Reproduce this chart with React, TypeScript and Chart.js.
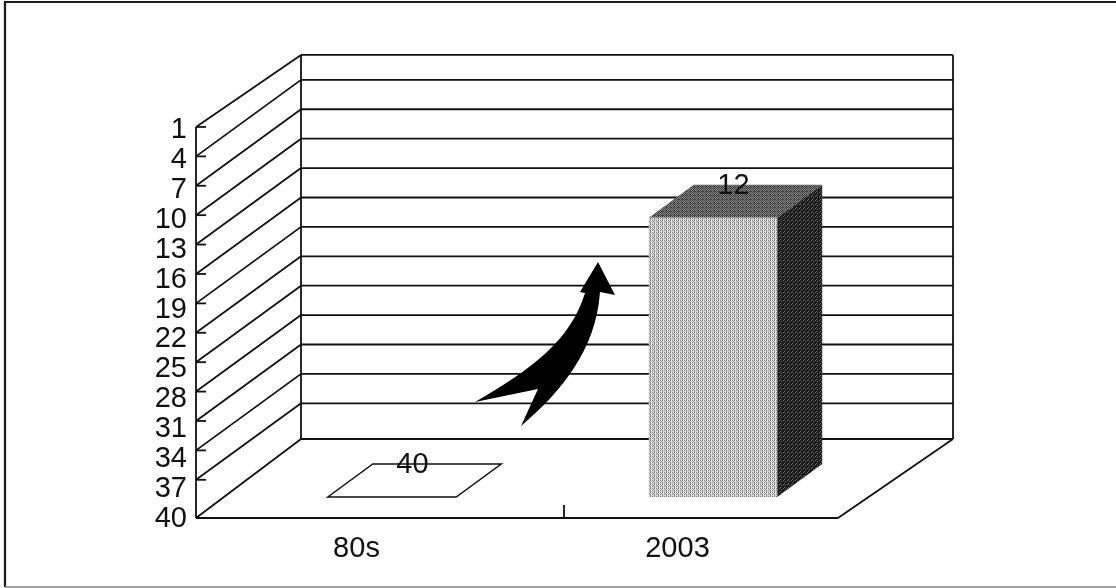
import React, { useEffect, useRef } from "react";
import { Chart, registerables } from "chart.js";

Chart.register(...registerables);

const categories = ["80s", "2003"];
const rankValues = [40, 12];
const rankTicks = [1, 4, 7, 10, 13, 16, 19, 22, 25, 28, 31, 34, 37, 40];

const FONT = '"Liberation Sans", Arial, sans-serif';
const INK = "#111111";

function dither(ctx: CanvasRenderingContext2D, rows: string[], light: string, dark: string) {
  const c = document.createElement("canvas");
  c.width = rows[0].length;
  c.height = rows.length;
  const g = c.getContext("2d")!;
  rows.forEach((row, y) => {
    [...row].forEach((ch, x) => {
      g.fillStyle = ch === "#" ? dark : light;
      g.fillRect(x, y, 1, 1);
    });
  });
  return ctx.createPattern(c, "repeat")!;
}

const scene = {
  id: "scene",
  beforeDatasetsDraw(chart: any) {
    const { ctx, chartArea: a, scales } = chart;
    const grid = scales.yGrid;
    const depthX = 105;
    const backRight = a.right + 115;
    ctx.save();
    ctx.strokeStyle = INK;
    ctx.lineWidth = 1.8;
    const line = (x1: number, y1: number, x2: number, y2: number) => {
      ctx.beginPath();
      ctx.moveTo(x1, y1);
      ctx.lineTo(x2, y2);
      ctx.stroke();
    };
    rankTicks.forEach((t, i) => {
      const last = i === rankTicks.length - 1;
      const f = last ? a.bottom - 1 : grid.getPixelForValue(t);
      const rise = i === 0 ? 72 : last ? 79 : 76.5;
      const b = f - rise;
      line(a.left, f, a.left + depthX, b);
      line(a.left + depthX, b, backRight, b);
      if (!last) line(a.left, f, a.left + 10, f);
    });
    const top = grid.getPixelForValue(rankTicks[0]);
    const bottom = a.bottom - 1;
    line(a.left, top, a.left, bottom);
    line(a.left + depthX, top - 72, a.left + depthX, bottom - 79);
    line(backRight, top - 72, backRight, bottom - 79);
    line(a.left, bottom, a.right, bottom);
    line(a.right, bottom, backRight, bottom - 79);
    const midTick = (a.left + a.right) / 2 + 47;
    line(midTick, bottom - 13, midTick, bottom);
    ctx.restore();
  },
  afterDatasetsDraw(chart: any) {
    const { ctx, chartArea: a } = chart;
    const meta = chart.getDatasetMeta(0);
    const front = dither(ctx, ["#.#.", ".#..", "#.#.", "..#."], "#e2e2e2", "#7e7e7e");
    const topFace = dither(ctx, ["#.#.", ".#.#", "#.#.", ".###"], "#8a8a8a", "#3e3e3e");
    const side = dither(ctx, ["###.", "#.##", "####", ".###"], "#6a6a6a", "#1c1c1c");
    const shiftX = 35.5;
    const shiftY = 22;
    const dx = 45;
    const dy = 33;
    ctx.save();
    meta.data.forEach((el: any, i: number) => {
      const l = el.x - el.width / 2 + shiftX;
      const r = el.x + el.width / 2 + shiftX;
      const t = el.y - shiftY;
      const b = el.base - shiftY;
      const flat = b - t < 1;
      const poly = (pts: number[][], fill: any) => {
        ctx.beginPath();
        pts.forEach(([x, y], k) => (k ? ctx.lineTo(x, y) : ctx.moveTo(x, y)));
        ctx.closePath();
        ctx.fillStyle = fill;
        ctx.fill();
        if (flat) {
          ctx.strokeStyle = INK;
          ctx.lineWidth = 1.5;
          ctx.stroke();
        }
      };
      poly([[l, t], [l + dx, t - dy], [r + dx, t - dy], [r, t]], flat ? "#ffffff" : topFace);
      if (!flat) {
        poly([[r, t], [r + dx, t - dy], [r + dx, b - dy], [r, b]], side);
        poly([[l, t], [r, t], [r, b], [l, b]], front);
      }
      ctx.fillStyle = INK;
      ctx.font = `29px ${FONT}`;
      ctx.textAlign = "center";
      ctx.textBaseline = "middle";
      ctx.fillText(String(rankValues[i]), (l + r) / 2 + dx / 2 - 2, t - dy + 1);
    });

    // annotation arrow between the two bars
    const X = (v: number) => a.left + v;
    const Y = (v: number) => a.top + v;
    ctx.fillStyle = "#000000";
    ctx.beginPath();
    ctx.moveTo(X(279), Y(272));
    ctx.bezierCurveTo(X(335), Y(240), X(375), Y(210), X(389), Y(163));
    ctx.lineTo(X(384), Y(162));
    ctx.lineTo(X(402), Y(132));
    ctx.lineTo(X(419), Y(165));
    ctx.lineTo(X(404), Y(162));
    ctx.bezierCurveTo(X(400), Y(220), X(365), Y(262), X(325), Y(296));
    ctx.lineTo(X(342), Y(259));
    ctx.closePath();
    ctx.fill();
    ctx.restore();
  },
};

export default function App() {
  const ref = useRef<HTMLCanvasElement>(null);
  useEffect(() => {
    const tickOverride = (scale: any) => {
      scale.ticks = rankTicks.map((value) => ({ value }));
    };
    const chart = new Chart(ref.current!, {
      type: "bar",
      data: {
        labels: categories,
        datasets: [
          {
            data: rankValues,
            base: 40,
            backgroundColor: "rgba(0,0,0,0)",
            categoryPercentage: 1,
            barPercentage: 0.4,
          },
        ],
      },
      plugins: [
        scene,
        {
          id: "page",
          beforeDraw(c: any) {
            const { ctx, width, height } = c;
            ctx.save();
            ctx.fillStyle = "#ffffff";
            ctx.fillRect(0, 0, width, height);
            ctx.strokeStyle = "#1a1a1a";
            ctx.lineWidth = 2.2;
            ctx.beginPath();
            ctx.moveTo(width, 2);
            ctx.lineTo(5, 2);
            ctx.lineTo(5, height - 1);
            ctx.stroke();
            ctx.strokeStyle = "#808080";
            ctx.lineWidth = 1.6;
            ctx.beginPath();
            ctx.moveTo(5, height - 1);
            ctx.lineTo(width, height - 1);
            ctx.stroke();
            ctx.restore();
          },
        },
      ],
      options: {
        responsive: false,
        animation: false,
        devicePixelRatio: 1,
        layout: { padding: { top: 130, right: 278, left: 0, bottom: 0 } },
        plugins: { legend: { display: false }, title: { display: false }, tooltip: { enabled: false } },
        scales: {
          x: {
            grid: { display: false, tickLength: 0 },
            border: { display: false },
            ticks: { color: INK, font: { family: FONT, size: 29 }, padding: 13, maxRotation: 0 },
            afterFit: (s: any) => {
              s.height = 69;
            },
          },
          y: {
            reverse: true,
            min: 1,
            max: 40,
            afterBuildTicks: tickOverride,
            grid: { display: false, tickLength: 0 },
            border: { display: false },
            ticks: { color: INK, font: { family: FONT, size: 29 }, padding: 9, autoSkip: false },
            afterFit: (s: any) => {
              s.width = 196;
            },
          },
          yGrid: {
            axis: "y",
            type: "linear",
            position: "left",
            display: false,
            reverse: true,
            min: 1.31,
            max: 41,
          },
        },
      } as any,
    });
    return () => chart.destroy();
  }, []);
  return (
    <div style={{ position: "absolute", left: 0, top: 0, width: 1116, height: 588 }}>
      <canvas ref={ref} width={1116} height={588} style={{ display: "block" }} />
    </div>
  );
}
